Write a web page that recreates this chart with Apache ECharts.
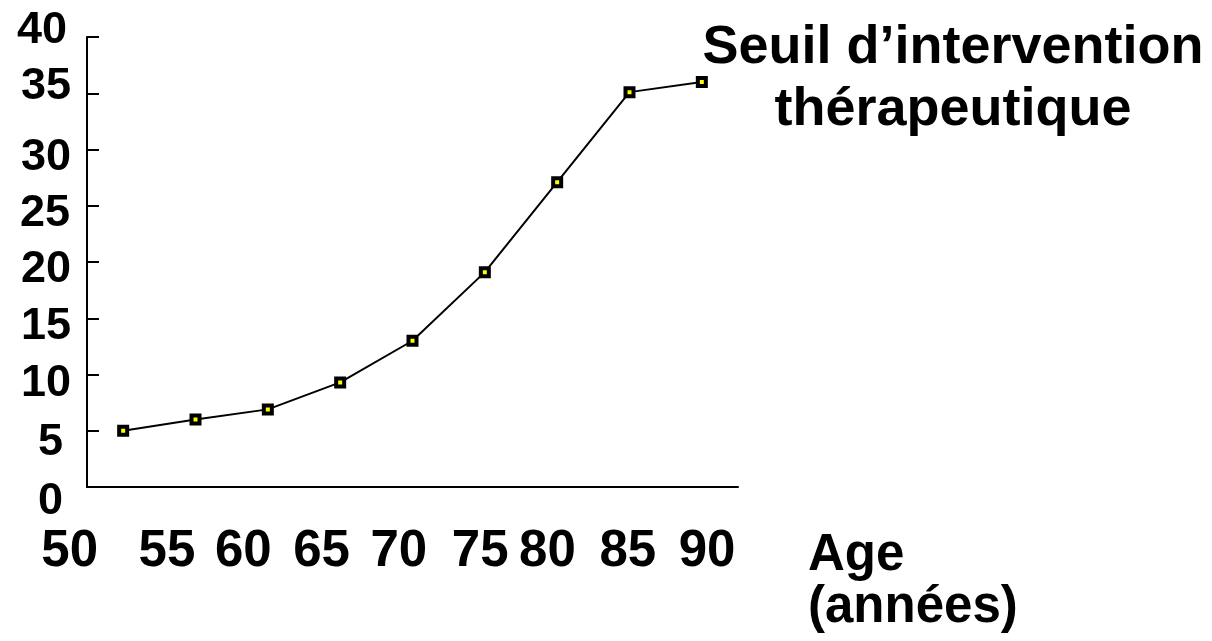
<!DOCTYPE html>
<html>
<head>
<meta charset="utf-8">
<script src="https://cdn.jsdelivr.net/npm/echarts@6/dist/echarts.min.js"></script>
<style>
    html, body { margin: 0; padding: 0; background: #fff; }
    #chart { width: 1212px; height: 641px; }
</style>
</head>
<body>
<div id="chart"></div>
<script>
// ages (x categories) and the threshold
const ages = ['50', '55', '60', '65', '70', '75', '80', '85', '90'];
const seuil = [5, 6, 6.9, 9.3, 13, 19.1, 27.1, 35.1, 36];
const yTicks = [0, 5, 10, 15, 20, 25, 30, 35, 40];

// labels on the slide were placed by hand, so nudge them a bit (px)
const xLabelShift = [-13, 6, 4, 4, 3, 6, -5, -3, -2];
const yLabelShift = {
    0: [15, 8], 5: [12, 8], 10: [9, 0], 15: [8, 0], 20: [8, 0],
    25: [8, 1], 30: [8, 0], 35: [-7, 0], 40: [-6, 4]
};

const font = '"Liberation Sans", Arial, sans-serif';

const yRich = {};
yTicks.forEach(v => {
    const [dy, dx] = yLabelShift[v];
    yRich['t' + v] = {
        fontSize: 45,
        fontWeight: 'bold',
        fontFamily: font,
        color: '#000',
        padding: [Math.max(dy, 0) * 2, dx, Math.max(-dy, 0) * 2, 0]
    };
});

const xLabelData = ages.map((a, i) => {
    const s = xLabelShift[i];
    return {
        value: a,
        textStyle: { padding: s > 0 ? [0, 0, 0, 2 * s] : [0, -2 * s, 0, 0] }
    };
});

const chart = echarts.init(document.getElementById('chart'));
chart.setOption({
    animation: false,
    backgroundColor: '#fff',
    title: [
        {
            text: 'Seuil d’intervention\nthérapeutique',
            left: 953,
            top: 17,
            padding: 0,
            textAlign: 'center',
            textStyle: { fontSize: 54, lineHeight: 62, fontWeight: 'bold', fontFamily: font, color: '#000' }
        },
        {
            text: 'Age\n(années)',
            left: 808,
            top: 530,
            padding: 0,
            textStyle: { fontSize: 51, lineHeight: 52, fontWeight: 'bold', fontFamily: font, color: '#000' }
        }
    ],
    grid: [
        { left: 87, right: 474, top: 37, bottom: 154 },
        { left: 43.5, right: 463.8, top: 37, bottom: 154 }
    ],
    xAxis: [
        {
            type: 'category',
            gridIndex: 0,
            data: ages,
            boundaryGap: true,
            axisLine: { lineStyle: { color: '#000', width: 2 } },
            axisTick: { show: false },
            axisLabel: { show: false },
            splitLine: { show: false }
        },
        {
            type: 'category',
            gridIndex: 1,
            data: xLabelData,
            boundaryGap: true,
            axisLine: { show: false },
            axisTick: { show: false },
            splitLine: { show: false },
            axisLabel: {
                interval: 0,
                margin: 39,
                fontSize: 51,
                fontWeight: 'bold',
                fontFamily: font,
                color: '#000'
            }
        }
    ],
    yAxis: [
        {
            type: 'value',
            gridIndex: 0,
            min: yTicks[0],
            max: yTicks[yTicks.length - 1],
            interval: yTicks[1] - yTicks[0],
            axisLine: { show: true, lineStyle: { color: '#000', width: 2 } },
            axisTick: { show: true, inside: true, length: 12, lineStyle: { color: '#000', width: 2 } },
            splitLine: { show: false },
            axisLabel: {
                margin: 16,
                formatter: v => '{t' + v + '|' + v + '}',
                rich: yRich
            }
        },
        {
            type: 'value',
            gridIndex: 1,
            show: false
        }
    ],
    series: [
        {
            type: 'line',
            xAxisIndex: 0,
            yAxisIndex: 0,
            data: seuil,
            symbol: 'rect',
            symbolSize: 8,
            lineStyle: { color: '#000', width: 2 },
            itemStyle: { color: '#ffff00', borderColor: '#000', borderWidth: 4 }
        }
    ]
});
</script>
</body>
</html>
